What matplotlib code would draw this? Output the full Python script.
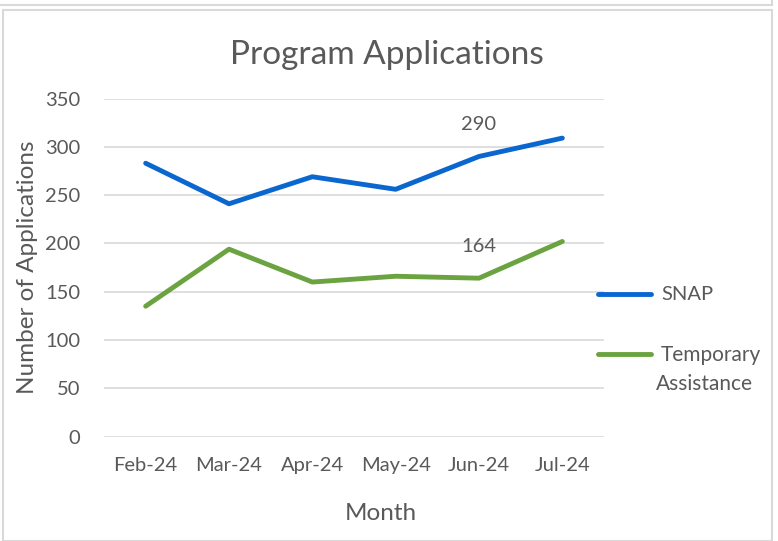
import matplotlib.pyplot as plt
from matplotlib.lines import Line2D
from matplotlib.patches import Rectangle

months = ["Feb-24", "Mar-24", "Apr-24", "May-24", "Jun-24", "Jul-24"]
snap = [283, 241, 269, 256, 290, 309]
temp_assist = [135, 194, 160, 166, 164, 202]
series_names = ["SNAP", "Temporary", "Assistance"]
labelled_month = "Jun-24"

W, H = 778, 541
BLUE = "#0a67d0"
GREEN = "#6aa33f"
TEXT = "#595959"
GRID = "#d9d9d9"

plt.rcParams["font.family"] = ["Lato", "DejaVu Sans"]

fig = plt.figure(figsize=(W / 100, H / 100), dpi=100)


def fx(px):
    return px / W


def fy(py):
    return 1 - py / H


# outer frames (screenshot of a worksheet chart)
fig.add_artist(Line2D([0, fx(772)], [fy(5), fy(5)], color=GRID, lw=1.5))
fig.add_artist(Line2D([fx(772), fx(772)], [1, fy(5)], color=GRID, lw=1.5))
fig.add_artist(Rectangle((fx(3), 0), fx(772) - fx(3), fy(10), transform=fig.transFigure,
                         facecolor="none", edgecolor=GRID, lw=1.5))

left, right, top, bottom = 104, 604, 98.5, 436.6
ax = fig.add_axes([fx(left), fy(bottom), fx(right) - fx(left), fy(top) - fy(bottom)])
x = range(len(months))
ax.plot(x, snap, color=BLUE, lw=3.5, solid_capstyle="round", solid_joinstyle="round")
ax.plot(x, temp_assist, color=GREEN, lw=3.5, solid_capstyle="round", solid_joinstyle="round")

ax.set_xlim(-0.5, len(months) - 0.5)
ax.set_ylim(0, 350)
ax.set_yticks(range(0, 351, 50))
ax.set_xticks(list(x))
ax.set_xticklabels(months)
ax.grid(axis="y", color=GRID, lw=1.2)
ax.set_axisbelow(True)
for s in ax.spines.values():
    s.set_visible(False)
ax.tick_params(length=0, labelsize=14.5, labelcolor=TEXT)
ax.tick_params(axis="x", pad=15)
ax.tick_params(axis="y", pad=17)

ax.set_ylabel("Number of Applications", fontsize=17.5, color=TEXT, labelpad=5)
fig.text(fx(381), fy(514), "Month", fontsize=17.5, color=TEXT, ha="center", va="center")
fig.text(fx(387), fy(55), "Program Applications", fontsize=24, color=TEXT, ha="center", va="center")

i = months.index(labelled_month)
for vals in (snap, temp_assist):
    ax.annotate(str(vals[i]), (i, vals[i]), xytext=(0, 23), textcoords="offset points",
                ha="center", va="center", fontsize=14.5, color=TEXT)

# legend
for yy, col in [(294, BLUE), (354, GREEN)]:
    fig.add_artist(Line2D([fx(598), fx(651)], [fy(yy), fy(yy)], color=col, lw=3.5,
                          solid_capstyle="round"))
fig.text(fx(661), fy(295), series_names[0], fontsize=14.5, color=TEXT, ha="left", va="center")
fig.text(fx(661), fy(355), series_names[1], fontsize=15, color=TEXT, ha="left", va="center")
fig.text(fx(656), fy(384), series_names[2], fontsize=15, color=TEXT, ha="left", va="center")

fig.savefig("out.png", dpi=100)
